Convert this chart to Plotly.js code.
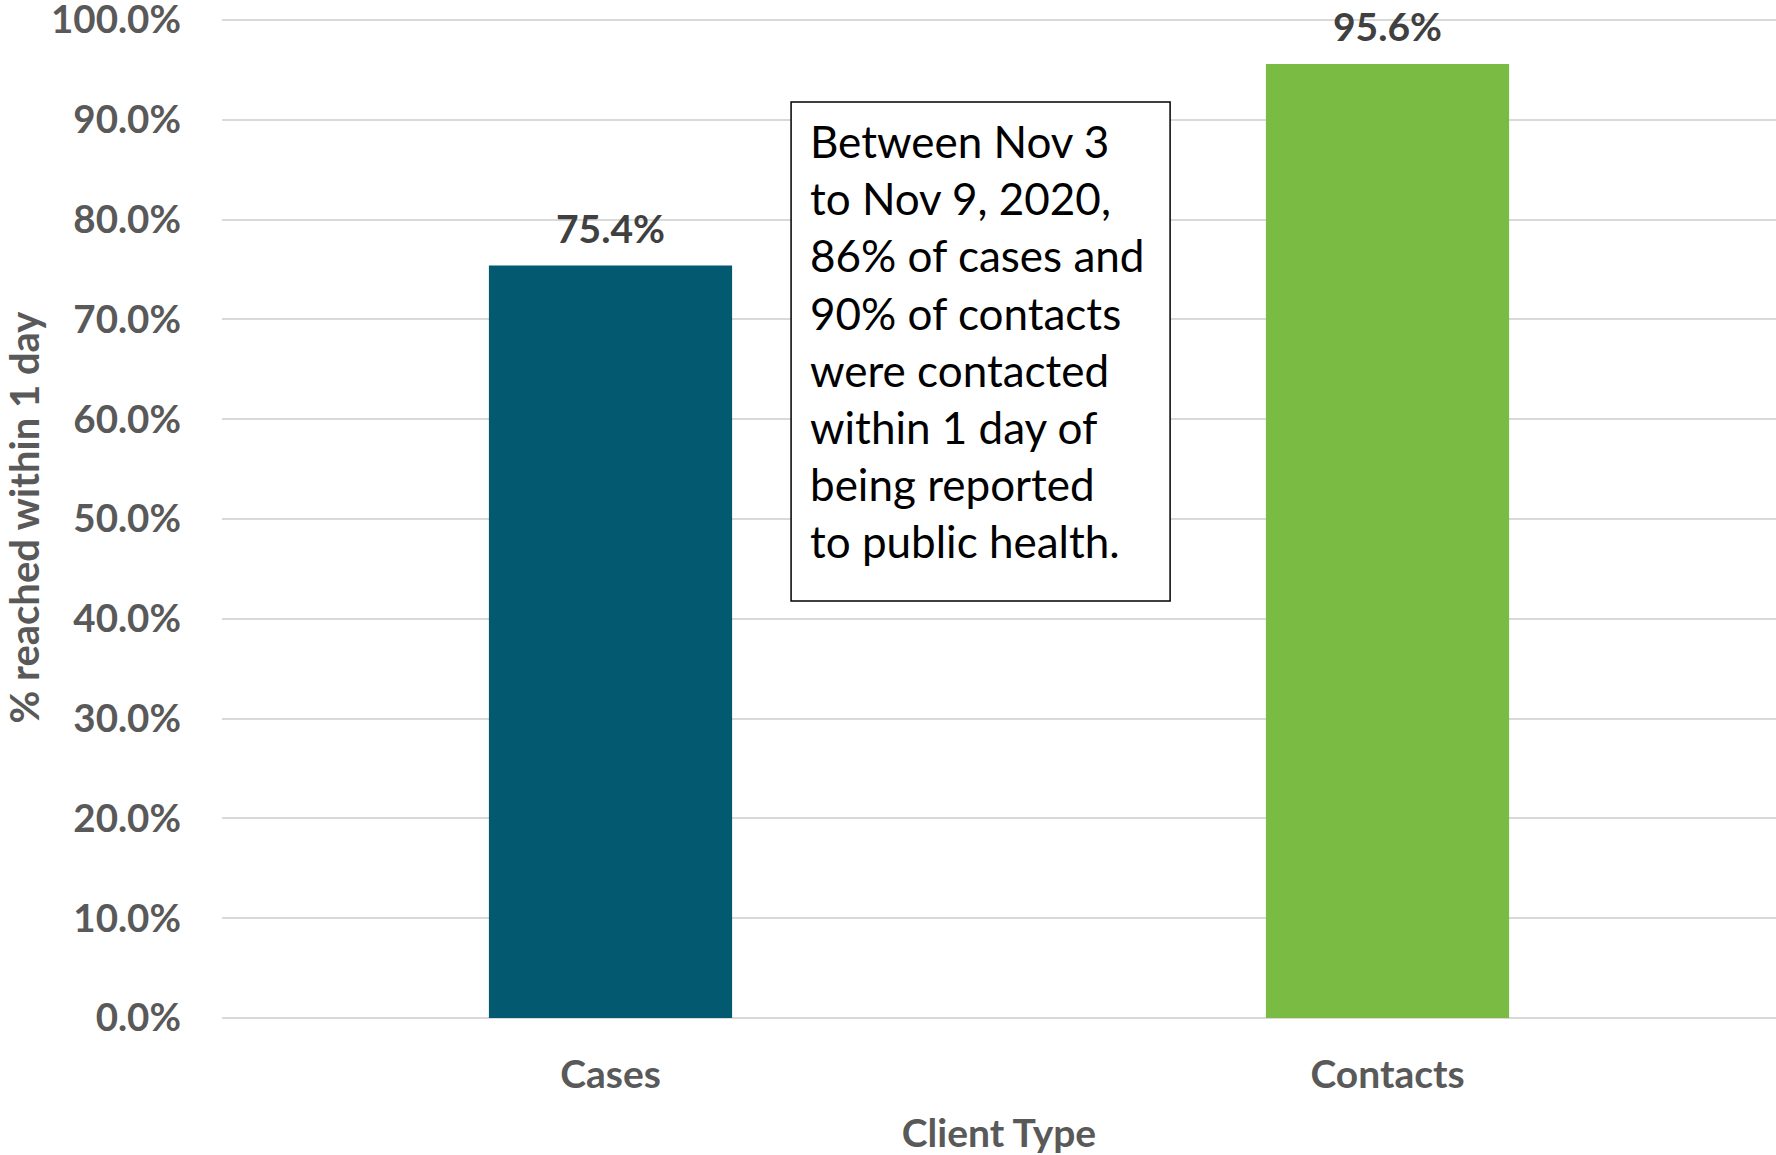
<!DOCTYPE html>
<html>
<head>
<meta charset="utf-8">
<script src="https://cdn.plot.ly/plotly-3.0.1.min.js"></script>
<style>
  html, body { margin: 0; padding: 0; background: #ffffff; }
  #chart { width: 1776px; height: 1155px; }
</style>
</head>
<body>
<div id="chart"></div>
<script>
// ---- data ----
const categories = ["Cases", "Contacts"];
const values = [75.4, 95.6];
const barColors = ["#03596F", "#7ABC43"];
const yTickValues = [0, 10, 20, 30, 40, 50, 60, 70, 80, 90, 100];
const yTickLabels = ["0.0%", "10.0%", "20.0%", "30.0%", "40.0%", "50.0%", "60.0%", "70.0%", "80.0%", "90.0%", "100.0%"];
const noteLines = [
  "Between Nov 3",
  "to Nov 9, 2020,",
  "86% of cases and",
  "90% of contacts",
  "were contacted",
  "within 1 day of",
  "being reported",
  "to public health."
];
const xTitle = "Client Type";
const yTitle = "% reached within 1 day";

const FONT = "Lato, 'Open Sans', sans-serif";

const trace = {
  type: "bar",
  x: categories,
  y: values,
  width: 0.313,
  marker: { color: barColors, line: { width: 0 } },
  hoverinfo: "x+y"
};

const labelAnnotations = categories.map((c, i) => ({
  x: c,
  y: values[i],
  xref: "x",
  yref: "y",
  text: values[i].toFixed(1) + "%",
  showarrow: false,
  yanchor: "bottom",
  yshift: 13,
  font: { family: FONT, size: 39, color: "#404040", weight: "bold" }
}));

const noteAnnotation = {
  xref: "paper",
  yref: "paper",
  x: 0.3768,
  y: 0.676,
  xanchor: "left",
  yanchor: "middle",
  align: "left",
  showarrow: false,
  text: noteLines.join("<br>"),
  font: { family: FONT, size: 44, color: "#000000" }
};

const layout = {
  width: 1776,
  height: 1155,
  paper_bgcolor: "#ffffff",
  plot_bgcolor: "#ffffff",
  margin: { l: 222, r: 0, t: 17, b: 137, pad: 0 },
  showlegend: false,
  font: { family: FONT, color: "#595959" },
  xaxis: {
    type: "category",
    range: [-0.5, 1.5],
    showgrid: false,
    showline: false,
    zeroline: false,
    ticks: "",
    tickfont: { family: FONT, size: 39, color: "#595959", weight: "bold" },
    ticklabelstandoff: 30,
    title: {
      text: xTitle,
      font: { family: FONT, size: 39, color: "#595959", weight: "bold" },
      standoff: 34
    }
  },
  yaxis: {
    range: [0, 100.3],
    tickvals: yTickValues,
    ticktext: yTickLabels,
    ticklabeloverflow: "allow",
    showgrid: true,
    gridcolor: "#D9D9D9",
    gridwidth: 2,
    zeroline: true,
    zerolinecolor: "#D9D9D9",
    zerolinewidth: 2,
    showline: false,
    ticks: "",
    ticklabelstandoff: 40,
    tickfont: { family: FONT, size: 38.5, color: "#595959", weight: "bold" },
    title: {
      text: yTitle,
      font: { family: FONT, size: 40, color: "#595959", weight: "bold" },
      standoff: 38
    }
  },
  annotations: labelAnnotations.concat([noteAnnotation]),
  shapes: [{
    type: "rect",
    xref: "paper",
    yref: "paper",
    x0: 0.3662, x1: 0.6101,
    y0: 0.4166, y1: 0.9151,
    line: { color: "#000000", width: 1.5 },
    fillcolor: "#ffffff",
    layer: "above"
  }]
};

Plotly.newPlot("chart", [trace], layout, { displayModeBar: false, staticPlot: true });
</script>
</body>
</html>
